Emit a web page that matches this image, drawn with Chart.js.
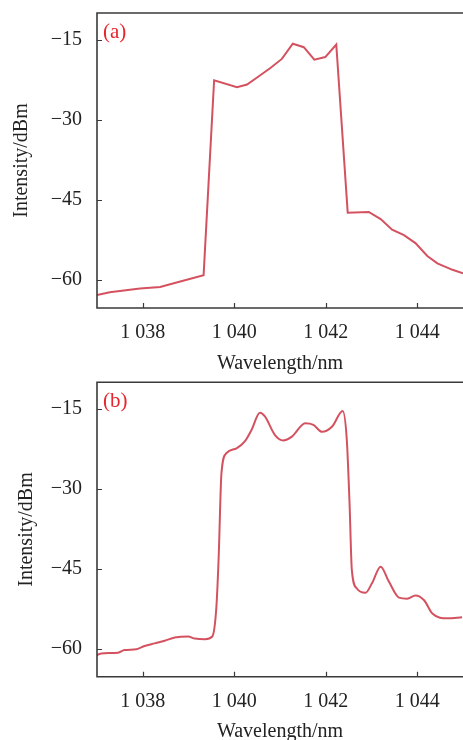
<!DOCTYPE html>
<html>
<head>
<meta charset="utf-8">
<script src="https://cdn.jsdelivr.net/npm/chart.js@4"></script>
<style>
html,body{margin:0;padding:0;background:#fff;width:463px;height:740px;overflow:hidden;}
.wrap{position:absolute;left:0;width:463px;}
canvas{display:block;}
</style>
</head>
<body>
<div class="wrap" style="top:0;height:376px;z-index:1"><canvas id="ca" width="463" height="376"></canvas></div>
<div class="wrap" style="top:370px;height:370px;z-index:2"><canvas id="cb" width="463" height="370"></canvas></div>
<script>
// ---- data ----
const xTicks = [1038, 1040, 1042, 1044];
const xTickLabels = ['1 038', '1 040', '1 042', '1 044'];
const yTicks = [-60, -45, -30, -15];
const yTickLabels = ['\u221260', '\u221245', '\u221230', '\u221215'];
const xTitle = 'Wavelength/nm';
const yTitle = 'Intensity/dBm';
const panelLabels = ['(a)', '(b)'];

const wavelengthA = [1037.0, 1037.28, 1037.94, 1038.38, 1038.82, 1039.33, 1039.56, 1040.06, 1040.28, 1040.53, 1040.79, 1041.04, 1041.28, 1041.52, 1041.75, 1041.99, 1042.23, 1042.48, 1042.94, 1043.2, 1043.45, 1043.71, 1043.96, 1044.22, 1044.44, 1044.77, 1045.0];
const intensityA = [-62.8, -62.3, -61.6, -61.3, -60.3, -59.1, -22.6, -23.9, -23.4, -21.9, -20.3, -18.6, -15.75, -16.4, -18.75, -18.25, -15.9, -47.4, -47.25, -48.6, -50.6, -51.6, -53.1, -55.5, -56.9, -58.1, -58.75];

const wavelengthB = [1036.95, 1037.09, 1037.46, 1037.6, 1037.86, 1038.04, 1038.26, 1038.48, 1038.7, 1038.99, 1039.14, 1039.36, 1039.52, 1039.61, 1039.66, 1039.72, 1039.83, 1040.05, 1040.23, 1040.38, 1040.56, 1040.67, 1040.89, 1041.07, 1041.26, 1041.55, 1041.73, 1041.92, 1042.14, 1042.37, 1042.46, 1042.52, 1042.57, 1042.68, 1042.87, 1043.01, 1043.2, 1043.38, 1043.6, 1043.78, 1043.96, 1044.15, 1044.33, 1044.66, 1044.98];
const intensityB = [-61.4, -60.9, -60.75, -60.25, -60.1, -59.5, -59.0, -58.5, -57.9, -57.7, -58.1, -58.2, -57.7, -52.1, -42.7, -27.1, -23.3, -22.4, -21.1, -18.9, -15.7, -16.4, -19.9, -20.9, -20.2, -17.7, -18.0, -19.3, -18.3, -15.4, -20.8, -32.7, -45.2, -48.7, -49.5, -47.7, -44.6, -47.4, -50.4, -50.6, -50.0, -50.9, -53.4, -54.3, -54.1];

// ---- styling ----
const FONT = 'Liberation Serif';
const LINE_COLOR = 'rgb(212,82,96)';
const AXIS_COLOR = '#3a3a3a';

function zeroPad(s) { s.paddingTop = 0; s.paddingBottom = 0; s.paddingLeft = 0; s.paddingRight = 0; }

function makeFramePlugin(label) {
  return {
    id: 'frame',
    afterDraw(chart) {
      const {ctx, chartArea: {left, top, right, bottom}, scales: {x, y}} = chart;
      ctx.save();
      ctx.strokeStyle = AXIS_COLOR;
      ctx.lineWidth = 1.6;
      ctx.beginPath();
      ctx.moveTo(right + 3, top);
      ctx.lineTo(left, top);
      ctx.lineTo(left, bottom);
      ctx.lineTo(right + 3, bottom);
      ctx.stroke();
      ctx.lineWidth = 1.2;
      ctx.beginPath();
      x.ticks.forEach(t => {
        const px = Math.round(x.getPixelForValue(t.value)) + 0.5;
        ctx.moveTo(px, bottom); ctx.lineTo(px, bottom - 5);
      });
      y.ticks.forEach(t => {
        const py = Math.round(y.getPixelForValue(t.value)) + 0.5;
        ctx.moveTo(left, py); ctx.lineTo(left + 5, py);
      });
      ctx.stroke();
      ctx.fillStyle = 'rgb(232,36,44)';
      ctx.font = '21px "' + FONT + '"';
      ctx.textBaseline = 'alphabetic';
      ctx.textAlign = 'left';
      ctx.fillText(label, left + 6, top + 25);
      ctx.restore();
    }
  };
}

function makeChart(id, xs, ys, label, opts) {
  const pts = xs.map((v, i) => ({x: v, y: ys[i]}));
  return new Chart(document.getElementById(id), {
    type: 'line',
    data: {datasets: [{
      data: pts,
      borderColor: LINE_COLOR,
      borderWidth: 2,
      pointRadius: 0,
      tension: opts.tension,
      cubicInterpolationMode: opts.mono ? 'monotone' : 'default',
      fill: false
    }]},
    options: {
      responsive: false,
      animation: false,
      devicePixelRatio: 1,
      layout: {padding: {top: opts.top, left: 0, right: 0, bottom: 0}},
      plugins: {legend: {display: false}, tooltip: {enabled: false}},
      scales: {
        x: {
          type: 'linear', min: 1037, max: 1045,
          grid: {display: false, drawTicks: false},
          border: {display: false},
          afterBuildTicks: s => { s.ticks = xTicks.map(v => ({value: v})); },
          afterFit: s => { s.height = opts.xh; zeroPad(s); },
          ticks: {
            color: '#222', font: {family: FONT, size: 20}, padding: 13,
            maxRotation: 0, autoSkip: false,
            callback: v => xTickLabels[xTicks.indexOf(v)]
          },
          title: {display: true, text: xTitle, color: '#222', font: {family: FONT, size: 20}, padding: {top: 0, bottom: opts.xtb}}
        },
        y: {
          type: 'linear', min: -65.25, max: -10,
          grid: {display: false, drawTicks: false},
          border: {display: false},
          afterBuildTicks: s => { s.ticks = yTicks.map(v => ({value: v})); },
          afterFit: s => { s.width = 97; zeroPad(s); },
          ticks: {
            color: '#222', font: {family: FONT, size: 20}, padding: 15,
            autoSkip: false,
            callback: v => yTickLabels[yTicks.indexOf(v)]
          },
          title: {display: true, text: yTitle, color: '#222', font: {family: FONT, size: 20}, padding: {top: opts.ytp, bottom: 0}}
        }
      }
    },
    plugins: [makeFramePlugin(label)]
  });
}

makeChart('ca', wavelengthA, intensityA, panelLabels[0], {top: 13, xh: 376 - 308, xtb: 0, ytp: 10, tension: 0, mono: false});
makeChart('cb', wavelengthB, intensityB, panelLabels[1], {top: 12.3, xh: 370 - 306.7, xtb: -4, ytp: 15, tension: 0.4, mono: true});
</script>
</body>
</html>
